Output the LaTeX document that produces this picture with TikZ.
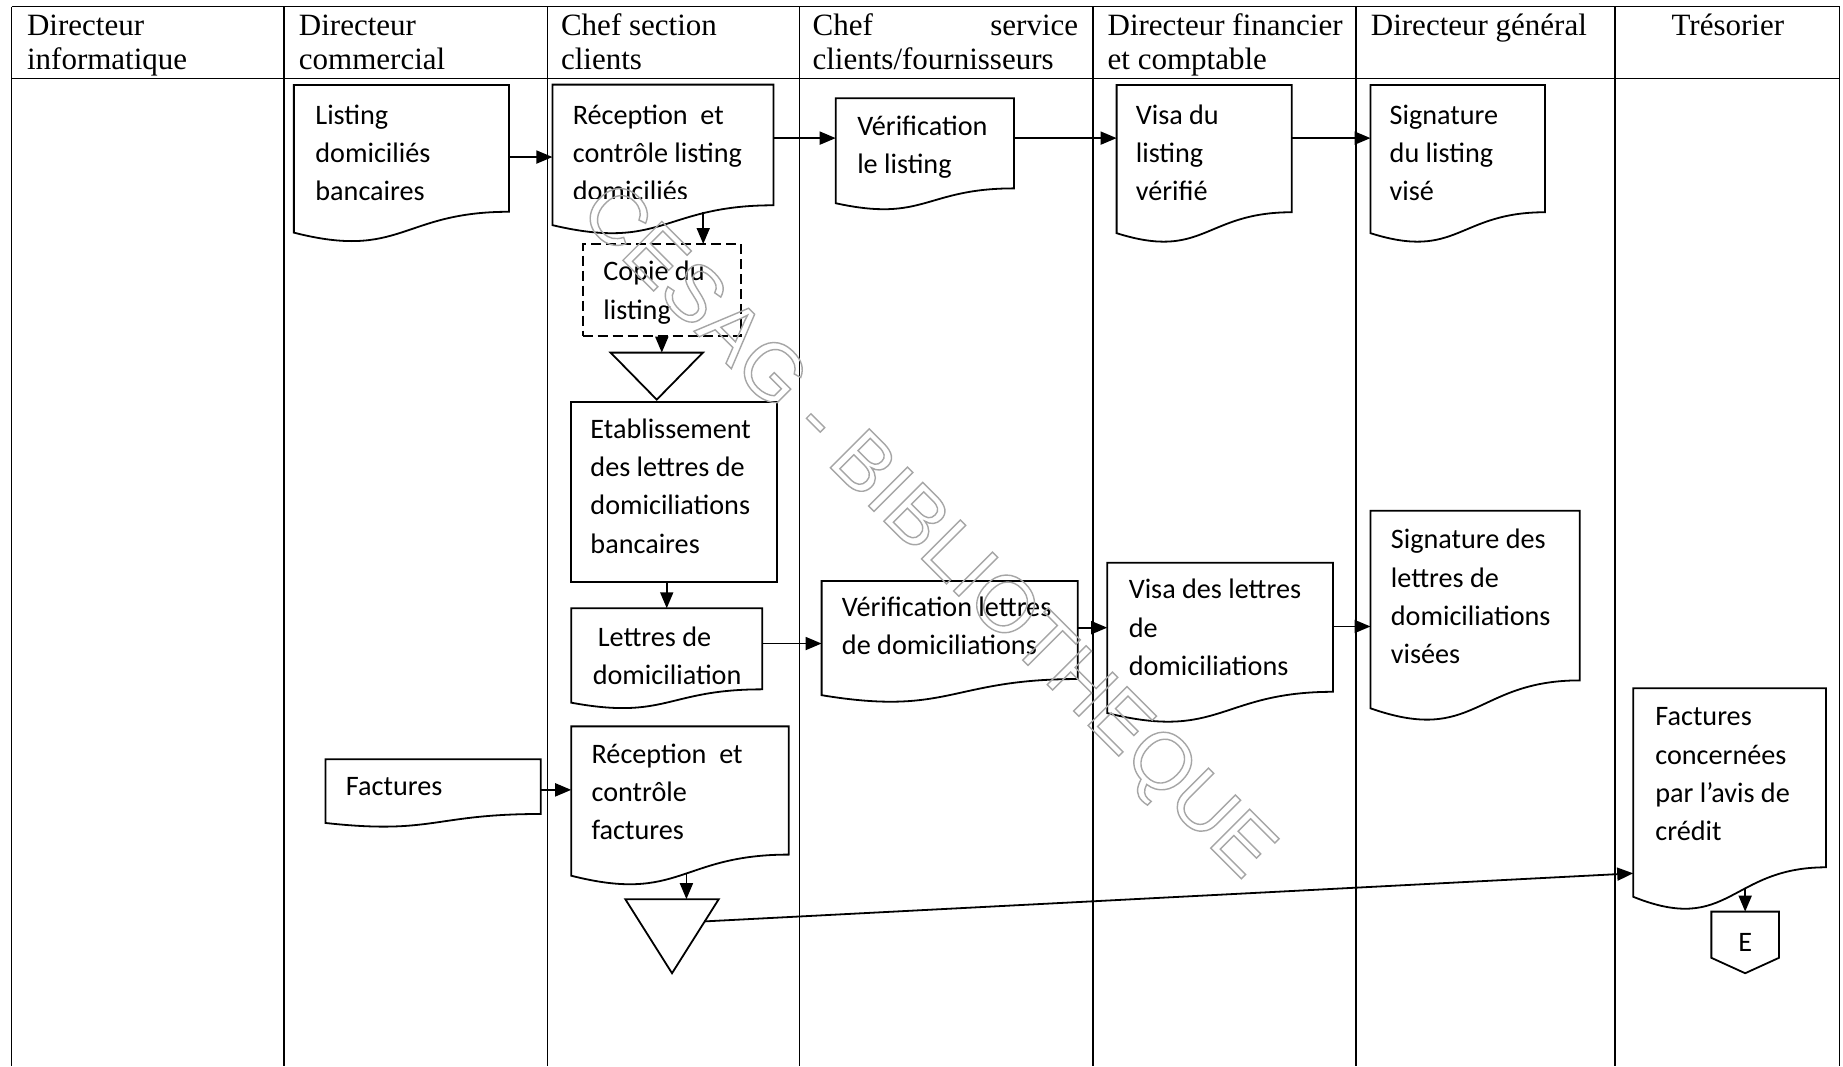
\documentclass[tikz,border=0pt]{standalone}
\usepackage{fontspec}
\setmainfont{Liberation Serif}
\newfontfamily\boxfont{Carlito}
\newfontfamily\markfont{Liberation Sans}
\usetikzlibrary{calc,arrows.meta}

% flowchart "document" outline drawn on the rectangle of a named node
\newcommand\docoutline[1]{%
  \draw[boxline] (#1.north west) -- (#1.north east)
    -- ($(#1.north east)!0.802!(#1.south east)$)
    .. controls ($(#1.north)!0.802!(#1.south)$) and ($(#1.north)!1.108!(#1.south)$)
    .. ($(#1.north west)!0.934!(#1.south west)$) -- cycle;}
% downward triangle (merge / filing)
\newcommand\trioutline[1]{%
  \draw[boxline] (#1.north west) -- (#1.north east) -- (#1.south) -- cycle;}
% off-page connector
\newcommand\offpage[1]{%
  \draw[boxline] (#1.north west) -- (#1.north east)
    -- ($(#1.north east)!0.75!(#1.south east)$) -- (#1.south)
    -- ($(#1.north west)!0.75!(#1.south west)$) -- cycle;}
% left aligned lines, baseline at the first line
\newcommand\celllines[1]{\parbox[t]{12cm}{\raggedright #1}}

\begin{document}
\begin{tikzpicture}[x=0.5877pt,y=-0.5877pt,
  lane/.style={line width=0.7pt},
  boxline/.style={line width=0.9pt},
  boxarea/.style={draw=none,inner sep=0pt,outer sep=0pt,anchor=north west,rectangle},
  boxsize/.style 2 args={minimum width=#1*0.5877pt,minimum height=#2*0.5877pt},
  lanehead/.style={anchor=base west,inner sep=0pt,font=\fontsize{15.5pt}{17pt}\selectfont},
  boxtext/.style={anchor=base west,inner sep=0pt,font=\boxfont\fontsize{14.1pt}{19.1pt}\selectfont},
  arr/.style={line width=0.9pt,-{Triangle[length=8pt,width=6.5pt]}}]

\useasboundingbox (0,0) rectangle (1568,907);
\fill[white] (0,0) rectangle (1568,907);

% swimlanes
\draw[lane] (10,5.7) -- (1565,5.7);
\draw[lane] (10,67) -- (1565,67);
\foreach \x in {10,241.6,466,680,930,1153.5,1374,1565}
  \draw[lane] (\x,5.7) -- (\x,907);

% lane titles
\node[lanehead] (h1) at (22.7,30.6) {\celllines{Directeur\\informatique}};
\node[lanehead] (h2) at (254,30.6) {\celllines{Directeur\\commercial}};
\node[lanehead] (h3) at (477,30.6) {\celllines{Chef section\\clients}};
\node[lanehead] (h4) at (691,30.6) {\celllines{\makebox[132.8pt][s]{Chef\hfill service}\\clients/fournisseurs}};
\node[lanehead] (h5) at (942,30.6) {\celllines{Directeur financier\\et comptable}};
\node[lanehead] (h6) at (1166,30.6) {Directeur général};
\node[lanehead,anchor=base] (h7) at (1470,30.6) {Trésorier};

% listing flow
\node[boxarea,boxsize={183}{134.5}] (b1) at (250,72.3) {};
\docoutline{b1}
\node[boxtext] (b1t) at (268,106) {\celllines{Listing\\domiciliés\\bancaires}};

\node[boxarea,boxsize={188}{128}] (b2) at (470,72) {};
\docoutline{b2}
\begin{scope}
  \clip (470,72) rectangle (658,169);
  \node[boxtext] (b2t) at (487,106) {\celllines{Réception~~et\\contrôle listing\\domiciliés}};
\end{scope}

\node[boxarea,boxsize={151.7}{95.6}] (b3) at (711,83.6) {};
\docoutline{b3}
\node[boxtext] (b3t) at (729,115) {\celllines{Vérification\\le listing}};

\node[boxarea,boxsize={149}{135}] (b4) at (950,72.3) {};
\docoutline{b4}
\node[boxtext] (b4t) at (966,106) {\celllines{Visa du\\listing\\vérifié}};

\node[boxarea,boxsize={148.5}{135}] (b5) at (1166,72.3) {};
\docoutline{b5}
\node[boxtext] (b5t) at (1182,106) {\celllines{Signature\\du listing\\visé}};

\node[boxarea,boxsize={134.7}{78},draw,boxline,dash pattern=on 5pt off 2.5pt] (b6) at (495.7,207.6) {};
\node[boxtext] (b6t) at (513,239) {\celllines{Copie du\\listing}};

\node[boxarea,boxsize={78.5}{40}] (t1) at (519.5,300) {};
\trioutline{t1}

% letters flow
\node[boxarea,boxsize={175}{153},draw,boxline] (b7) at (486,342) {};
\node[boxtext] (b7t) at (502,373) {\celllines{Etablissement\\des lettres de\\domiciliations\\bancaires}};

\node[boxarea,boxsize={162.5}{86}] (b8) at (486,517.5) {};
\docoutline{b8}
\node[boxtext] (b8t) at (504,550) {\celllines{\hspace{2.5pt}Lettres de\\domiciliation}};

\node[boxarea,boxsize={218}{104}] (b9) at (699,494.3) {};
\docoutline{b9}
\node[boxtext] (b9t) at (716,524.6) {\celllines{Vérification lettres\\de domiciliations}};

\node[boxarea,boxsize={192}{137}] (b10) at (942,478.7) {};
\docoutline{b10}
\node[boxtext] (b10t) at (960,509.6) {\celllines{Visa des lettres\\de\\domiciliations}};

\node[boxarea,boxsize={178}{180}] (b11) at (1166,434.5) {};
\docoutline{b11}
\node[boxtext] (b11t) at (1183,467) {\celllines{Signature des\\lettres de\\domiciliations\\visées}};

% invoices flow
\node[boxarea,boxsize={183}{58}] (b12) at (277,646) {};
\docoutline{b12}
\node[boxtext] (b12t) at (294,677) {Factures};

\node[boxarea,boxsize={185}{136}] (b13) at (486,618) {};
\docoutline{b13}
\node[boxtext] (b13t) at (503,649.5) {\celllines{Réception~~et\\contrôle\\factures}};

\node[boxarea,boxsize={79.5}{63}] (t2) at (532,765) {};
\trioutline{t2}

\node[boxarea,boxsize={164}{190}] (b14) at (1389.5,585.5) {};
\docoutline{b14}
\node[boxtext] (b14t) at (1408,617.5) {\celllines{Factures\\concernées\\par l’avis de\\crédit}};

\node[boxarea,boxsize={57.5}{52.4},font=\boxfont\fontsize{14.1pt}{17pt}\selectfont] (e) at (1456,775.6) {E};
\offpage{e}

% connectors
\draw[arr] (b1.east |- 0,133.6) -- (b2.west |- 0,133.6);
\draw[arr] (b2.east |- 0,117.5) -- (b3.west |- 0,117.5);
\draw[arr] (b3.east |- 0,117.5) -- (b4.west |- 0,117.5);
\draw[arr] (b4.east |- 0,117.5) -- (b5.west |- 0,117.5);
\coordinate (b2out) at (598.3,180);
\draw[arr] (b2out) -- (b2out |- b6.north);
\draw[arr] (b6.south) -- (b6.south |- t1.north);
\draw[arr] (b7.south -| b8.north) -- (b8.north);
\draw[arr] (b8.east |- 0,547.5) -- (b9.west |- 0,547.5);
\draw[arr] (b9.east |- 0,534) -- (b10.west |- 0,534);
\draw[arr] (b10.east |- 0,533) -- (b11.west |- 0,533);
\draw[arr] (b12.east |- 0,672) -- (b13.west |- 0,672);
\coordinate (b13out) at (584,743);
\draw[arr] (b13out) -- (b13out |- t2.north);
\draw[arr] ($(t2.north east)!0.3!(t2.south)$) -- (b14.west |- 0,743);
\draw[arr] (e.north |- 0,756) -- (e.north);

% library stamp
\node[rotate=-45,inner sep=0pt,text=black!35,font=\markfont\fontsize{40pt}{40pt}\selectfont] (stamp) at (787,454)
  {\special{pdf:literal direct 1 Tr 0.7 w}CESAG - BIBLIOTHEQUE\special{pdf:literal direct 0 Tr}};
\end{tikzpicture}
\end{document}
